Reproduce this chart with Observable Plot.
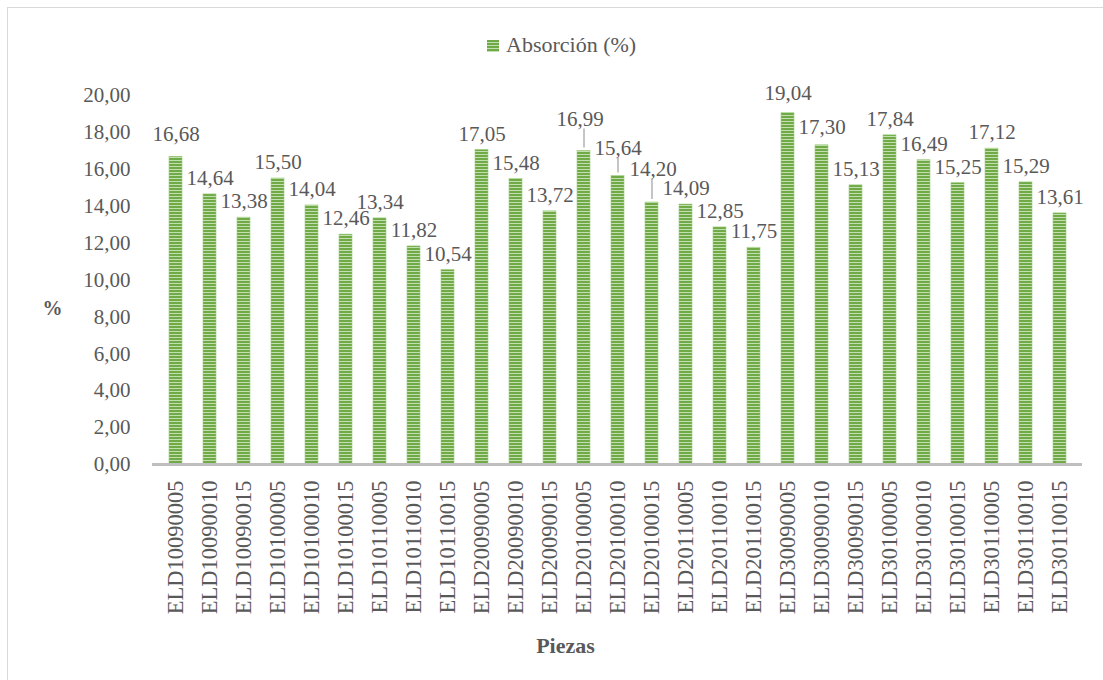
<!DOCTYPE html>
<html>
<head>
<meta charset="utf-8">
<script src="https://cdn.jsdelivr.net/npm/d3@7"></script>
<script src="https://cdn.jsdelivr.net/npm/@observablehq/plot@0.6"></script>
<style>
  html, body { margin: 0; padding: 0; background: #fff; width: 1103px; height: 680px; overflow: hidden; }
  #frame { position: absolute; left: 7px; top: 7px; width: 1120px; height: 720px; border: 1.5px solid #d9d9d9; box-sizing: border-box; }
  #legend { position: absolute; left: 0; top: 0; width: 1103px; height: 65px; font-family: "Liberation Serif", serif; color: #595959; }
  #legend .swatch { position: absolute; left: 487px; top: 40px; width: 12px; height: 12px;
    background: repeating-linear-gradient(to bottom, #6faa47 0px, #6faa47 2px, #c3deb0 2px, #c3deb0 3px); }
  #legend .name { position: absolute; left: 506px; top: 32px; font-size: 22px; line-height: 26px; }
  #chart { position: absolute; left: 0; top: 65px; }
</style>
</head>
<body>
<div id="frame"></div>
<div id="legend"><span class="swatch"></span><span class="name">Absorción (%)</span></div>
<div id="chart"></div>
<script>
// Absorción de agua por pieza
const piezas = [
  "ELD10090005", "ELD10090010", "ELD10090015",
  "ELD10100005", "ELD10100010", "ELD10100015",
  "ELD10110005", "ELD10110010", "ELD10110015",
  "ELD20090005", "ELD20090010", "ELD20090015",
  "ELD20100005", "ELD20100010", "ELD20100015",
  "ELD20110005", "ELD20110010", "ELD20110015",
  "ELD30090005", "ELD30090010", "ELD30090015",
  "ELD30100005", "ELD30100010", "ELD30100015",
  "ELD30110005", "ELD30110010", "ELD30110015"
];
const absorcion = [
  16.68, 14.64, 13.38,
  15.50, 14.04, 12.46,
  13.34, 11.82, 10.54,
  17.05, 15.48, 13.72,
  16.99, 15.64, 14.20,
  14.09, 12.85, 11.75,
  19.04, 17.30, 15.13,
  17.84, 16.49, 15.25,
  17.12, 15.29, 13.61
];
const yTicks = [0, 2, 4, 6, 8, 10, 12, 14, 16, 18, 20];

// label placement (pixel nudges), default sits just above the bar
const labelNudge = {
  "ELD10090005": [0, -22],
  "ELD20100005": [-4, -32],
  "ELD20100010": [0, -28],
  "ELD20100015": [1, -33],
  "ELD30090005": [0, -20],
  "ELD30090010": [0, -18]
};
// pieces whose label is joined to the bar by a leader line
const leaderPieces = ["ELD20100005", "ELD20100010", "ELD20100015"];

const fmt = v => v.toFixed(2).replace(".", ",");
const data = piezas.map((p, i) => ({pieza: p, valor: absorcion[i]}));
const font = "Liberation Serif, serif";
const pxPerUnit = (399 - 30) / 20;

const labelMarks = data.map(d => {
  const [dx, dy] = labelNudge[d.pieza] || [0, -16];
  return Plot.text([d], {
    x: "pieza", y: "valor", text: d => fmt(d.valor),
    dx, dy, fontSize: 21, fill: "#595959", fontFamily: font,
    textAnchor: "middle", lineAnchor: "middle"
  });
});

const leaderData = data.filter(d => leaderPieces.includes(d.pieza)).map(d => {
  const [, dy] = labelNudge[d.pieza];
  return {pieza: d.pieza, y1: d.valor + 3 / pxPerUnit, y2: d.valor + (-dy - 10) / pxPerUnit};
});

const chart = Plot.plot({
  width: 1103,
  height: 615,
  marginLeft: 152,
  marginRight: 21,
  marginTop: 30,
  marginBottom: 216,
  style: {color: "#595959", fontFamily: font, background: "transparent", overflow: "visible"},
  x: {domain: piezas, paddingInner: 0.62, paddingOuter: 0.31},
  y: {domain: [0, 20]},
  marks: [
    Plot.barY(data, {x: "pieza", y: "valor", fill: "#70ad47"}),
    Plot.ruleY([0], {stroke: "#bfbfbf", strokeWidth: 3}),
    Plot.ruleX(leaderData, {x: "pieza", y1: "y1", y2: "y2", stroke: "#a6a6a6", strokeWidth: 1.3}),
    ...labelMarks,
    Plot.axisX({tickRotate: -90, tickSize: 0, tickPadding: 16, fontSize: 22.5, label: null, fontFamily: font}),
    Plot.axisY({ticks: yTicks, tickFormat: fmt, tickSize: 0, tickPadding: 22, fontSize: 21, label: null, fontFamily: font}),
    Plot.text(["%"], {frameAnchor: "left", dx: -110, dy: 29, fontSize: 20, fontWeight: "bold", fill: "#595959", fontFamily: font}),
    Plot.text(["Piezas"], {frameAnchor: "bottom", dx: -52, dy: 188, fontSize: 22, fontWeight: "bold", fill: "#595959", fontFamily: font})
  ]
});

// striped fill for the bars
const svg = d3.select(chart);
const pat = svg.insert("defs", ":first-child").append("pattern")
  .attr("id", "rayas").attr("patternUnits", "userSpaceOnUse")
  .attr("width", 6).attr("height", 3);
pat.append("rect").attr("width", 6).attr("height", 3).attr("fill", "#c3deb0");
pat.append("rect").attr("width", 6).attr("height", 2).attr("fill", "#6faa47");
svg.selectAll('g[aria-label="bar"]').attr("fill", "url(#rayas)")
  .selectAll("rect").attr("stroke", "#9ccc7c").attr("stroke-width", 0.6);

document.getElementById("chart").appendChild(chart);
</script>
</body>
</html>
